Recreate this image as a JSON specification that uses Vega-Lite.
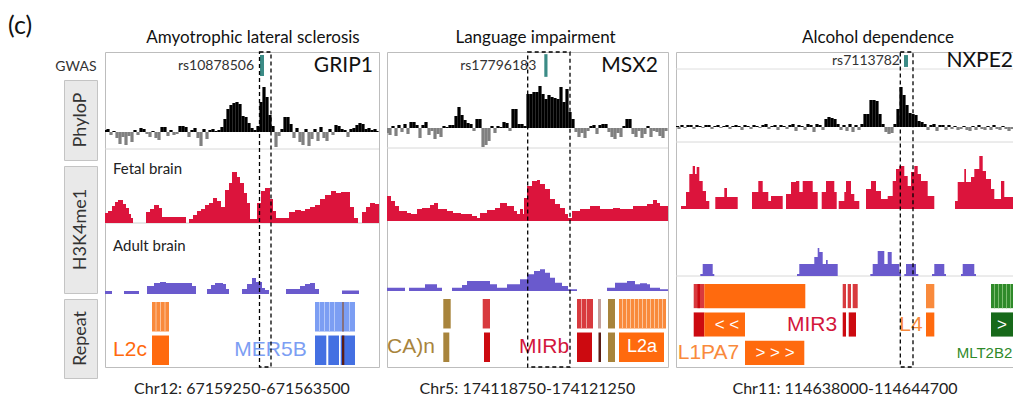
{
"$schema":"https://vega.github.io/schema/vega-lite/v6.json",
"background":"white",
"padding":{"left":8,"top":12,"right":0,"bottom":0},
"config":{"font":"Lato","view":{"stroke":"#bdbdbd"},"scale":{"continuousPadding":0},"title":{"fontWeight":"normal","color":"#111111","subtitleColor":"#111111","subtitleFont":"Lato"}},
"datasets":{
"p1phylo":[{"x":1.6,"v":0.2},{"x":3,"v":0.3},{"x":6,"v":-0.3},{"x":9,"v":0.1},{"x":12,"v":-0.6},{"x":15,"v":-1.2},{"x":18,"v":-0.5},{"x":21,"v":-1.3},{"x":24,"v":-0.4},{"x":27,"v":-1.0},{"x":30,"v":0.2},{"x":33,"v":-0.3},{"x":36,"v":0.4},{"x":39,"v":0.3},{"x":42,"v":-0.2},{"x":45,"v":-0.5},{"x":48,"v":0.1},{"x":51,"v":-0.6},{"x":54,"v":-0.8},{"x":57,"v":0.5},{"x":60,"v":0.5},{"x":63,"v":-0.4},{"x":66,"v":0.2},{"x":69,"v":-0.3},{"x":72,"v":-0.2},{"x":75,"v":0.6},{"x":78,"v":0.6},{"x":81,"v":0.5},{"x":84,"v":-0.5},{"x":87,"v":0.2},{"x":90,"v":0.4},{"x":93,"v":-0.6},{"x":96,"v":-1.4},{"x":99,"v":0.3},{"x":102,"v":-0.7},{"x":105,"v":0.2},{"x":108,"v":0.3},{"x":111,"v":0.1},{"x":114,"v":0.2},{"x":117,"v":0.5},{"x":120,"v":1.3},{"x":123,"v":2.3},{"x":126,"v":2.7},{"x":129,"v":2.9},{"x":132,"v":3.0},{"x":135,"v":2.8},{"x":138,"v":1.6},{"x":141,"v":1.5},{"x":144,"v":0.9},{"x":147,"v":0.4},{"x":150,"v":0.2},{"x":153,"v":0.6},{"x":156,"v":3.0},{"x":159,"v":4.5},{"x":162,"v":3.5},{"x":165,"v":1.7},{"x":168,"v":0.6},{"x":171,"v":-1.5},{"x":174,"v":-0.4},{"x":177,"v":0.3},{"x":180,"v":1.5},{"x":183,"v":1.5},{"x":186,"v":0.8},{"x":189,"v":-0.6},{"x":192,"v":0.4},{"x":195,"v":-1.0},{"x":198,"v":-1.3},{"x":201,"v":0.3},{"x":204,"v":-1.4},{"x":207,"v":-0.7},{"x":210,"v":0.3},{"x":213,"v":-0.9},{"x":216,"v":0.5},{"x":219,"v":-0.6},{"x":222,"v":-0.9},{"x":225,"v":0.3},{"x":228,"v":-0.3},{"x":231,"v":0.7},{"x":234,"v":0.6},{"x":237,"v":0.3},{"x":240,"v":0.2},{"x":243,"v":-0.5},{"x":246,"v":0.3},{"x":249,"v":0.4},{"x":252,"v":0.7},{"x":255,"v":0.9},{"x":258,"v":0.8},{"x":261,"v":0.3},{"x":264,"v":0.4},{"x":267,"v":0.2},{"x":270,"v":0.3},{"x":272,"v":0.1}],
"p1fetal":[{"x":0,"v":1.0},{"x":3,"v":1.2},{"x":7,"v":1.7},{"x":10,"v":2.1},{"x":13,"v":2.3},{"x":18,"v":1.9},{"x":21,"v":1.5},{"x":24,"v":0.9},{"x":26,"v":0.5},{"x":28,"v":0},{"x":41,"v":1.1},{"x":45,"v":1.4},{"x":49,"v":1.8},{"x":54,"v":1.5},{"x":57,"v":0.6},{"x":81,"v":0},{"x":84,"v":0.4},{"x":88,"v":0.8},{"x":92,"v":1.2},{"x":96,"v":1.4},{"x":100,"v":1.8},{"x":104,"v":2.0},{"x":108,"v":2.5},{"x":112,"v":2.2},{"x":116,"v":1.6},{"x":120,"v":3.3},{"x":124,"v":4.0},{"x":127,"v":5.1},{"x":132,"v":4.6},{"x":135,"v":4.0},{"x":139,"v":3.0},{"x":142,"v":2.0},{"x":145,"v":0.4},{"x":152,"v":2.0},{"x":156,"v":3.2},{"x":160,"v":3.5},{"x":165,"v":2.4},{"x":168,"v":1.2},{"x":171,"v":0.5},{"x":184,"v":1.1},{"x":190,"v":1.3},{"x":196,"v":1.2},{"x":200,"v":1.4},{"x":205,"v":1.6},{"x":210,"v":1.8},{"x":215,"v":2.4},{"x":220,"v":2.8},{"x":226,"v":3.2},{"x":231,"v":3.0},{"x":236,"v":3.1},{"x":241,"v":3.1},{"x":245,"v":1.6},{"x":249,"v":0.5},{"x":253,"v":0},{"x":257,"v":1.1},{"x":261,"v":1.6},{"x":265,"v":2.0},{"x":270,"v":1.9},{"x":274,"v":1.9}],
"p1adult":[{"x":0,"v":0.3},{"x":7,"v":0},{"x":19,"v":0.3},{"x":34,"v":0},{"x":42,"v":0.8},{"x":49,"v":1.1},{"x":55,"v":1.2},{"x":61,"v":1.1},{"x":87,"v":0.8},{"x":91,"v":0},{"x":102,"v":0.5},{"x":106,"v":0.9},{"x":110,"v":1.1},{"x":118,"v":1.0},{"x":121,"v":0.5},{"x":124,"v":0},{"x":137,"v":0.5},{"x":142,"v":1.0},{"x":147,"v":1.6},{"x":151,"v":1.2},{"x":157,"v":0.6},{"x":160,"v":0.4},{"x":164,"v":0},{"x":181,"v":0.5},{"x":195,"v":0.8},{"x":200,"v":1.0},{"x":205,"v":1.1},{"x":210,"v":0.5},{"x":214,"v":0},{"x":237,"v":0.35},{"x":254,"v":0},{"x":274,"v":0}],
"p1rep":[{"s":47,"e":64,"lane":1,"c":"L2x"},{"s":50.5,"e":51.5,"lane":1,"c":"hiL"},{"s":55,"e":56,"lane":1,"c":"hiL"},{"s":59.5,"e":60.5,"lane":1,"c":"hiL"},{"s":47,"e":64,"lane":2,"c":"L2"},{"s":210,"e":250,"lane":1,"c":"MERx"},{"s":214,"e":215,"lane":1,"c":"hiB"},{"s":219,"e":220,"lane":1,"c":"hiB"},{"s":224,"e":225,"lane":1,"c":"hiB"},{"s":229,"e":230,"lane":1,"c":"hiB"},{"s":237,"e":239,"lane":1,"c":"mv"},{"s":244,"e":245,"lane":1,"c":"hiB"},{"s":210,"e":221.3,"lane":2,"c":"MER"},{"s":223.3,"e":234,"lane":2,"c":"MER"},{"s":235.7,"e":250,"lane":2,"c":"MER"},{"s":237,"e":239.3,"lane":2,"c":"dk"}],
"p2phylo":[{"x":1.6,"v":-0.5},{"x":3,"v":-0.7},{"x":6,"v":0.2},{"x":9,"v":-0.8},{"x":12,"v":0.3},{"x":15,"v":-0.4},{"x":18,"v":0.4},{"x":21,"v":-0.6},{"x":24,"v":0.6},{"x":27,"v":0.6},{"x":30,"v":0.3},{"x":33,"v":-1.0},{"x":36,"v":0.3},{"x":39,"v":0.6},{"x":42,"v":-0.7},{"x":45,"v":-0.3},{"x":48,"v":-1.1},{"x":51,"v":-0.6},{"x":54,"v":-0.9},{"x":57,"v":0.2},{"x":60,"v":0.1},{"x":63,"v":0.3},{"x":66,"v":0.3},{"x":69,"v":1.2},{"x":72,"v":2.1},{"x":75,"v":1.3},{"x":78,"v":0.8},{"x":81,"v":0.5},{"x":84,"v":0.4},{"x":87,"v":-0.3},{"x":90,"v":0.9},{"x":93,"v":0.9},{"x":96,"v":-1.9},{"x":99,"v":-1.7},{"x":102,"v":-1.3},{"x":105,"v":0.2},{"x":108,"v":-0.5},{"x":111,"v":0.2},{"x":114,"v":0.1},{"x":117,"v":0.6},{"x":120,"v":0.5},{"x":123,"v":-0.3},{"x":126,"v":1.9},{"x":129,"v":1.9},{"x":132,"v":0.4},{"x":135,"v":0.4},{"x":138,"v":0.2},{"x":141,"v":3.4},{"x":144,"v":3.4},{"x":147,"v":3.6},{"x":150,"v":3.6},{"x":153,"v":4.2},{"x":156,"v":3.4},{"x":159,"v":2.9},{"x":162,"v":3.3},{"x":165,"v":3.1},{"x":168,"v":3.0},{"x":171,"v":2.9},{"x":174,"v":4.1},{"x":177,"v":2.6},{"x":180,"v":3.9},{"x":183,"v":1.6},{"x":186,"v":0.9},{"x":189,"v":-0.4},{"x":192,"v":-0.9},{"x":195,"v":-0.5},{"x":198,"v":-1.0},{"x":201,"v":-0.3},{"x":204,"v":0.2},{"x":207,"v":0.3},{"x":210,"v":-0.6},{"x":213,"v":0.3},{"x":216,"v":0.4},{"x":219,"v":0.4},{"x":222,"v":-0.4},{"x":225,"v":-0.9},{"x":228,"v":-1.1},{"x":231,"v":-0.5},{"x":234,"v":-0.9},{"x":237,"v":0.2},{"x":240,"v":0.9},{"x":243,"v":0.9},{"x":246,"v":-0.6},{"x":249,"v":-0.9},{"x":252,"v":-0.3},{"x":255,"v":-1.0},{"x":258,"v":-0.6},{"x":261,"v":0.2},{"x":264,"v":-0.9},{"x":267,"v":-0.3},{"x":270,"v":-0.4},{"x":273,"v":-0.8},{"x":276,"v":-1.0},{"x":279,"v":-0.3}],
"p2fetal":[{"x":0,"v":2.5},{"x":4,"v":2.0},{"x":8,"v":1.5},{"x":12,"v":1.0},{"x":20,"v":0.8},{"x":24,"v":0.7},{"x":30,"v":1.2},{"x":35,"v":1.3},{"x":43,"v":1.6},{"x":47,"v":1.8},{"x":51,"v":1.2},{"x":60,"v":1.0},{"x":66,"v":0.8},{"x":74,"v":0.7},{"x":85,"v":0.5},{"x":90,"v":0.3},{"x":93,"v":0.8},{"x":100,"v":1.1},{"x":108,"v":1.3},{"x":113,"v":1.8},{"x":120,"v":1.5},{"x":127,"v":1.0},{"x":130,"v":0.7},{"x":133,"v":1.2},{"x":136,"v":0.7},{"x":137,"v":2.3},{"x":140,"v":3.5},{"x":145,"v":4.0},{"x":150,"v":4.1},{"x":153,"v":3.7},{"x":158,"v":3.2},{"x":163,"v":2.2},{"x":168,"v":1.7},{"x":173,"v":1.3},{"x":178,"v":0.7},{"x":181,"v":0.3},{"x":185,"v":1.0},{"x":193,"v":1.2},{"x":203,"v":1.5},{"x":213,"v":1.2},{"x":226,"v":1.3},{"x":233,"v":1.2},{"x":246,"v":1.5},{"x":260,"v":1.7},{"x":266,"v":2.1},{"x":270,"v":1.8},{"x":273,"v":1.5},{"x":281,"v":1.5}],
"p2adult":[{"x":0,"v":0.33},{"x":18,"v":0},{"x":22,"v":0.33},{"x":38,"v":0.67},{"x":50,"v":0.33},{"x":55,"v":0},{"x":65,"v":0.33},{"x":75,"v":0.6},{"x":80,"v":1.0},{"x":103,"v":0.67},{"x":110,"v":0.33},{"x":120,"v":0.67},{"x":133,"v":1.17},{"x":140,"v":1.67},{"x":147,"v":2.0},{"x":153,"v":2.17},{"x":158,"v":1.83},{"x":163,"v":1.33},{"x":168,"v":0.83},{"x":175,"v":0.5},{"x":181,"v":0.17},{"x":190,"v":0},{"x":220,"v":0.33},{"x":228,"v":0.83},{"x":240,"v":1.0},{"x":248,"v":0.67},{"x":253,"v":0.77},{"x":260,"v":0.67},{"x":263,"v":0.33},{"x":273,"v":0.17},{"x":281,"v":0.17}],
"p2rep":[{"s":56.3,"e":63.7,"lane":1,"c":"Sim"},{"s":56.3,"e":62.3,"lane":2,"c":"Sim"},{"s":95.7,"e":103,"lane":1,"c":"MIRx"},{"s":97,"e":103,"lane":2,"c":"MIR"},{"s":190,"e":206,"lane":1,"c":"MIRx"},{"s":194,"e":195,"lane":1,"c":"hiR"},{"s":199,"e":200,"lane":1,"c":"hiR"},{"s":190,"e":205,"lane":2,"c":"MIR"},{"s":211,"e":214,"lane":1,"c":"pk"},{"s":211.5,"e":214,"lane":2,"c":"dk"},{"s":221,"e":228,"lane":1,"c":"Sim"},{"s":221,"e":228,"lane":2,"c":"Sim"},{"s":232,"e":279,"lane":1,"c":"L2x"},{"s":235,"e":236,"lane":1,"c":"hiL"},{"s":239,"e":240,"lane":1,"c":"hiL"},{"s":243,"e":244,"lane":1,"c":"hiL"},{"s":247,"e":248,"lane":1,"c":"hiL"},{"s":251,"e":252,"lane":1,"c":"hiL"},{"s":255,"e":256,"lane":1,"c":"hiL"},{"s":259,"e":260,"lane":1,"c":"hiL"},{"s":263,"e":264,"lane":1,"c":"hiL"},{"s":267,"e":268,"lane":1,"c":"hiL"},{"s":271,"e":272,"lane":1,"c":"hiL"},{"s":275,"e":276,"lane":1,"c":"hiL"},{"s":232,"e":277,"lane":2,"c":"L2"}],
"p3phylo":[{"x":1.6,"v":0.1},{"x":3,"v":-0.2},{"x":6,"v":0.2},{"x":9,"v":-0.1},{"x":12,"v":0.2},{"x":15,"v":0.2},{"x":18,"v":-0.2},{"x":21,"v":0.2},{"x":24,"v":0.1},{"x":27,"v":-0.1},{"x":30,"v":0.2},{"x":33,"v":0.2},{"x":36,"v":-0.2},{"x":39,"v":0.1},{"x":42,"v":0.2},{"x":45,"v":-0.1},{"x":48,"v":0.1},{"x":51,"v":0.2},{"x":54,"v":-0.2},{"x":57,"v":0.1},{"x":60,"v":0.2},{"x":63,"v":0.1},{"x":66,"v":-0.3},{"x":69,"v":0.2},{"x":72,"v":0.1},{"x":75,"v":-0.2},{"x":78,"v":0.2},{"x":81,"v":0.1},{"x":84,"v":-0.1},{"x":87,"v":0.2},{"x":90,"v":0.3},{"x":93,"v":-0.2},{"x":96,"v":0.1},{"x":99,"v":0.2},{"x":102,"v":-0.3},{"x":105,"v":0.2},{"x":108,"v":0.1},{"x":111,"v":-0.2},{"x":114,"v":0.2},{"x":117,"v":0.3},{"x":120,"v":-0.4},{"x":123,"v":0.2},{"x":126,"v":0.1},{"x":129,"v":-0.3},{"x":132,"v":0.3},{"x":135,"v":0.2},{"x":138,"v":-0.5},{"x":141,"v":0.3},{"x":144,"v":0.2},{"x":147,"v":-0.3},{"x":150,"v":0.8},{"x":153,"v":1.0},{"x":156,"v":0.9},{"x":159,"v":0.8},{"x":162,"v":0.3},{"x":165,"v":-0.3},{"x":168,"v":0.2},{"x":171,"v":-0.4},{"x":174,"v":0.3},{"x":177,"v":-0.5},{"x":180,"v":0.2},{"x":183,"v":-0.3},{"x":186,"v":0.3},{"x":189,"v":1.3},{"x":192,"v":1.3},{"x":195,"v":2.7},{"x":198,"v":2.7},{"x":201,"v":2.6},{"x":204,"v":1.3},{"x":207,"v":0.3},{"x":210,"v":-0.5},{"x":213,"v":-0.7},{"x":216,"v":-0.6},{"x":219,"v":0.3},{"x":222,"v":1.8},{"x":225,"v":4.0},{"x":228,"v":3.2},{"x":231,"v":2.2},{"x":234,"v":1.4},{"x":237,"v":1.3},{"x":240,"v":1.2},{"x":243,"v":0.6},{"x":246,"v":0.5},{"x":249,"v":0.3},{"x":252,"v":-0.3},{"x":255,"v":0.2},{"x":258,"v":0.3},{"x":261,"v":-0.4},{"x":264,"v":0.2},{"x":267,"v":0.2},{"x":270,"v":-0.3},{"x":273,"v":0.2},{"x":276,"v":-0.2},{"x":279,"v":0.1},{"x":282,"v":-0.3},{"x":285,"v":-0.2},{"x":288,"v":0.1},{"x":291,"v":-0.3},{"x":294,"v":-0.4},{"x":297,"v":0.1},{"x":300,"v":-0.3},{"x":303,"v":0.2},{"x":306,"v":-0.2},{"x":309,"v":-0.3},{"x":312,"v":0.1},{"x":315,"v":-0.3},{"x":318,"v":0.2},{"x":321,"v":-0.2},{"x":324,"v":-0.3},{"x":327,"v":0.1},{"x":330,"v":-0.2},{"x":333,"v":-0.4},{"x":336,"v":-0.2}],
"p3fetal":[{"x":0,"v":0},{"x":5,"v":0.3},{"x":10,"v":1.7},{"x":13.3,"v":3.5},{"x":16.7,"v":4.3},{"x":19,"v":3.5},{"x":20.7,"v":4.2},{"x":23.3,"v":2.8},{"x":26.7,"v":1.8},{"x":30,"v":0.8},{"x":33.3,"v":0},{"x":39.3,"v":1.2},{"x":48.3,"v":2.1},{"x":51,"v":1.2},{"x":61.7,"v":0},{"x":76,"v":1.7},{"x":82.3,"v":2.8},{"x":86.7,"v":1.7},{"x":92.3,"v":0.8},{"x":95,"v":1.3},{"x":106.7,"v":0},{"x":110,"v":1.5},{"x":115,"v":2.7},{"x":120,"v":2.8},{"x":123.3,"v":1.7},{"x":126.7,"v":2.8},{"x":136.7,"v":1.7},{"x":141.7,"v":0},{"x":145.7,"v":1.7},{"x":150,"v":2.8},{"x":158.3,"v":1.7},{"x":160.7,"v":0},{"x":162.7,"v":0.8},{"x":168.3,"v":1.7},{"x":170,"v":2.8},{"x":175,"v":1.5},{"x":178.3,"v":0.8},{"x":183.3,"v":0},{"x":190,"v":2.0},{"x":195,"v":2.8},{"x":200,"v":1.8},{"x":205,"v":1.0},{"x":211.7,"v":1.3},{"x":216.7,"v":2.8},{"x":220,"v":4.0},{"x":223.3,"v":4.3},{"x":228.3,"v":3.3},{"x":231.7,"v":2.3},{"x":235,"v":3.7},{"x":238.3,"v":4.3},{"x":241.7,"v":3.5},{"x":245,"v":2.8},{"x":251.7,"v":1.3},{"x":258.3,"v":0},{"x":279,"v":0.8},{"x":281.7,"v":2.7},{"x":288.3,"v":4.0},{"x":290,"v":2.7},{"x":295,"v":3.2},{"x":298.3,"v":4.0},{"x":303.3,"v":5.3},{"x":306.7,"v":3.8},{"x":310,"v":3.0},{"x":315,"v":2.0},{"x":318.3,"v":1.0},{"x":325,"v":2.8},{"x":328.3,"v":1.2},{"x":338,"v":1.2}],
"p3adult":[{"x":0,"v":0},{"x":24.3,"v":0.2},{"x":26.7,"v":1.2},{"x":36.7,"v":0.2},{"x":38.3,"v":0},{"x":121,"v":0.2},{"x":123.3,"v":1.2},{"x":138.3,"v":1.9},{"x":141.7,"v":2.8},{"x":143.3,"v":2.4},{"x":146.7,"v":1.2},{"x":150,"v":1.6},{"x":151.7,"v":1.2},{"x":161.7,"v":0},{"x":194.3,"v":0.2},{"x":196.7,"v":1.2},{"x":201.7,"v":2.5},{"x":208.3,"v":1.2},{"x":211.7,"v":2.4},{"x":215.7,"v":1.2},{"x":223.3,"v":0.4},{"x":225,"v":0},{"x":228.3,"v":0.2},{"x":230,"v":1.2},{"x":240,"v":0.2},{"x":242.3,"v":0},{"x":256,"v":0.2},{"x":258.3,"v":1.2},{"x":268.3,"v":0.2},{"x":270,"v":0},{"x":285,"v":0.2},{"x":286.7,"v":1.2},{"x":298.3,"v":0.2},{"x":300,"v":0},{"x":338,"v":0}],
"p3rep":[{"s":17.7,"e":28.3,"lane":1,"c":"MIRx"},{"s":21.5,"e":24,"lane":1,"c":"MIR"},{"s":28.3,"e":129.3,"lane":1,"c":"L2"},{"s":166.7,"e":170,"lane":1,"c":"MIRx"},{"s":171.7,"e":175,"lane":1,"c":"MIRx"},{"s":176.7,"e":181.7,"lane":1,"c":"MIRx"},{"s":250,"e":258.3,"lane":1,"c":"L2x"},{"s":315,"e":338,"lane":1,"c":"LTRx"},{"s":318,"e":319,"lane":1,"c":"hiG"},{"s":322,"e":323,"lane":1,"c":"hiG"},{"s":326,"e":327,"lane":1,"c":"hiG"},{"s":330,"e":331,"lane":1,"c":"hiG"},{"s":334,"e":335,"lane":1,"c":"hiG"},{"s":17.7,"e":28.3,"lane":2,"c":"MIR"},{"s":28.3,"e":69,"lane":2,"c":"L2"},{"s":166.7,"e":170,"lane":2,"c":"MIR"},{"s":172.7,"e":180,"lane":2,"c":"MIR"},{"s":250,"e":258.3,"lane":2,"c":"L2"},{"s":315,"e":338,"lane":2,"c":"LTR"},{"s":69,"e":128.3,"lane":3,"c":"L2"}]
},
"spacing":6,
"hconcat":[
{
"title":{"text":"(c)","subtitle":" ","anchor":"start","frame":"group","dx":-56,"offset":5,"fontSize":25,"subtitleFontSize":17,"subtitlePadding":-8},
"spacing":4,
"vconcat":[
{"width":33,"height":23,"view":{"stroke":null},"data":{"values":[{"t":"GWAS"}]},"mark":{"type":"text","fontSize":14,"align":"right","dx":16,"dy":3,"color":"#333333"},"encoding":{"text":{"field":"t"}}},
{"width":33,"height":80,"view":{"stroke":"#c4c4c4","fill":"#e9e9e9"},"data":{"values":[{"t":"PhyloP"}]},"mark":{"type":"text","angle":270,"fontSize":18,"color":"#333333"},"encoding":{"text":{"field":"t"}}},
{"width":33,"height":127,"view":{"stroke":"#c4c4c4","fill":"#e9e9e9"},"data":{"values":[{"t":"H3K4me1"}]},"mark":{"type":"text","angle":270,"fontSize":18,"color":"#333333"},"encoding":{"text":{"field":"t"}}},
{"width":33,"height":79,"view":{"stroke":"#c4c4c4","fill":"#e9e9e9"},"data":{"values":[{"t":"Repeat"}]},"mark":{"type":"text","angle":270,"fontSize":18,"color":"#333333"},"encoding":{"text":{"field":"t"}}}
]
},
{
"spacing":4,
"vconcat":[
{"width":274,"height":315,"resolve":{"scale":{"y":"independent"}},
"title":{"text":" ","subtitle":"Amyotrophic lateral sclerosis","anchor":"middle","frame":"group","dx":11,"offset":5,"fontSize":25,"subtitleFontSize":17,"subtitlePadding":-8},
"layer":[
{"data":{"values":[{"snp":"rs10878506","s":155,"e":159,"gene":"GRIP1","g":268}]},
"layer":[
{"mark":{"type":"rect","color":"#3b8b86"},"encoding":{"x":{"field":"s","type":"quantitative","scale":{"domain":[0,274],"nice":false,"zero":false,"padding":0},"axis":null},"x2":{"field":"e"},"y":{"datum":0.11,"type":"quantitative","scale":{"domain":[0,1],"range":[27,0],"nice":false,"zero":false},"axis":null},"y2":{"datum":0.89}}},
{"mark":{"type":"text","align":"right","dx":-6,"fontSize":14,"color":"#333333"},"encoding":{"x":{"field":"s","type":"quantitative","axis":null},"y":{"datum":0.5,"type":"quantitative","axis":null},"text":{"field":"snp"}}},
{"mark":{"type":"text","align":"right","fontSize":21,"color":"#111111"},"encoding":{"x":{"field":"g","type":"quantitative","axis":null},"y":{"datum":0.5,"type":"quantitative","axis":null},"text":{"field":"gene"}}}
]},
{"layer":[
{"data":{"values":[{}]},"mark":{"type":"rule","color":"#d8d8d8"},"encoding":{"y":{"datum":-1.7,"type":"quantitative","scale":{"domain":[-1.7,5.3],"range":[97,27],"nice":false,"zero":false},"axis":null}}},
{"data":{"name":"p1phylo"},"mark":{"type":"bar","width":3.2,"clip":true},"encoding":{"x":{"field":"x","type":"quantitative","scale":{"domain":[0,274],"nice":false,"zero":false,"padding":0},"axis":null},"y":{"field":"v","type":"quantitative","axis":null},"y2":{"datum":0},"color":{"condition":{"test":"datum.v < 0","value":"#808080"},"value":"#000000"}}}
]},
{"layer":[
{"data":{"values":[{}]},"mark":{"type":"rule","color":"#d0d0d0"},"encoding":{"y":{"datum":0,"type":"quantitative","scale":{"domain":[0,7.4],"range":[171,97],"nice":false,"zero":false},"axis":null}}},
{"data":{"name":"p1fetal"},"mark":{"type":"area","interpolate":"step-after","color":"#dc143c"},"encoding":{"x":{"field":"x","type":"quantitative","scale":{"domain":[0,274],"nice":false,"zero":false,"padding":0},"axis":null},"y":{"field":"v","type":"quantitative","axis":null},"y2":{"datum":0}}},
{"data":{"values":[{"t":"Fetal brain"}]},"mark":{"type":"text","align":"left","fontSize":15,"color":"#222222"},"encoding":{"x":{"datum":8,"type":"quantitative","axis":null},"y":{"datum":5.4,"type":"quantitative","axis":null},"text":{"field":"t"}}}
]},
{"layer":[
{"data":{"name":"p1adult"},"mark":{"type":"area","interpolate":"step-after","color":"#6a5acd"},"encoding":{"x":{"field":"x","type":"quantitative","scale":{"domain":[0,274],"nice":false,"zero":false,"padding":0},"axis":null},"y":{"field":"v","type":"quantitative","scale":{"domain":[-0.1,7.1],"range":[243,171],"nice":false,"zero":false},"axis":null},"y2":{"datum":0}}},
{"data":{"values":[{"t":"Adult brain"}]},"mark":{"type":"text","align":"left","fontSize":15,"color":"#222222"},"encoding":{"x":{"datum":8,"type":"quantitative","axis":null},"y":{"datum":4.8,"type":"quantitative","axis":null},"text":{"field":"t"}}}
]},
{"layer":[
{"data":{"name":"p1rep"},"mark":{"type":"rect"},"encoding":{"x":{"field":"s","type":"quantitative","scale":{"domain":[0,274],"nice":false,"zero":false,"padding":0},"axis":null},"x2":{"field":"e"},"y":{"field":"lane","type":"ordinal","scale":{"type":"band","domain":[1,2],"range":[250,313],"paddingInner":0.12,"paddingOuter":0},"axis":null},"color":{"field":"c","type":"nominal","legend":null,"scale":{"domain":["L2","L2x","hiL","MER","MERx","hiB","mv","Sim","MIR","MIRx","hiR","MIRt","dk","pk","LTR","LTRx","hiG"],"range":["#ff6a0e","#f98a3c","#fcc49c","#4470e2","#7c9ef3","#b4c8fa","#86707e","#a8843c","#cc0a10","#d83a3e","#eea0a0","#d3163c","#5a1c14","#c4a09c","#17691a","#2f8a2a","#7cbc70"]}}}},
{"data":{"values":[{"t":"L2c","x":25,"lane":2,"c":"L2"},{"t":"MER5B","x":165.5,"lane":2,"c":"MERx"}]},"mark":{"type":"text","font":"Liberation Sans","fontSize":21,"clip":true},"encoding":{"x":{"field":"x","type":"quantitative","axis":null},"y":{"field":"lane","type":"ordinal","axis":null},"text":{"field":"t"},"color":{"field":"c","type":"nominal","legend":null}}}
]},
{"data":{"values":[{"s":154.5,"e":166}]},"mark":{"type":"rect","fill":"#ffffff","fillOpacity":0,"stroke":"#000000","strokeDash":[4,3],"strokeWidth":1.3},"encoding":{"x":{"field":"s","type":"quantitative","axis":null},"x2":{"field":"e"}}}
]},
{"width":274,"height":32,"data":{"values":[{"t":"Chr12: 67159250-671563500"}]},"mark":{"type":"text","fontSize":16,"color":"#222222"},"encoding":{"text":{"field":"t"}}}
]
},
{
"spacing":4,
"vconcat":[
{"width":281,"height":315,"resolve":{"scale":{"y":"independent"}},
"title":{"text":" ","subtitle":"Language impairment","anchor":"middle","frame":"group","dx":8,"offset":5,"fontSize":25,"subtitleFontSize":17,"subtitlePadding":-8},
"layer":[
{"data":{"values":[{"snp":"rs17796183","s":157.3,"e":160.5,"gene":"MSX2","g":271}]},
"layer":[
{"mark":{"type":"rect","color":"#3b8b86"},"encoding":{"x":{"field":"s","type":"quantitative","scale":{"domain":[0,281],"nice":false,"zero":false,"padding":0},"axis":null},"x2":{"field":"e"},"y":{"datum":0.08,"type":"quantitative","scale":{"domain":[0,1],"range":[27,0],"nice":false,"zero":false},"axis":null},"y2":{"datum":0.92}}},
{"mark":{"type":"text","align":"right","dx":-8,"fontSize":14,"color":"#333333"},"encoding":{"x":{"field":"s","type":"quantitative","axis":null},"y":{"datum":0.5,"type":"quantitative","axis":null},"text":{"field":"snp"}}},
{"mark":{"type":"text","align":"right","fontSize":21,"color":"#111111"},"encoding":{"x":{"field":"g","type":"quantitative","axis":null},"y":{"datum":0.5,"type":"quantitative","axis":null},"text":{"field":"gene"}}}
]},
{"layer":[
{"data":{"values":[{}]},"mark":{"type":"rule","color":"#d8d8d8"},"encoding":{"y":{"datum":-2.0,"type":"quantitative","scale":{"domain":[-2.0,4.9],"range":[96,27],"nice":false,"zero":false},"axis":null}}},
{"data":{"name":"p2phylo"},"mark":{"type":"bar","width":3.2,"clip":true},"encoding":{"x":{"field":"x","type":"quantitative","scale":{"domain":[0,281],"nice":false,"zero":false,"padding":0},"axis":null},"y":{"field":"v","type":"quantitative","axis":null},"y2":{"datum":0},"color":{"condition":{"test":"datum.v < 0","value":"#808080"},"value":"#000000"}}}
]},
{"layer":[
{"data":{"name":"p2fetal"},"mark":{"type":"area","interpolate":"step-after","color":"#dc143c"},"encoding":{"x":{"field":"x","type":"quantitative","scale":{"domain":[0,281],"nice":false,"zero":false,"padding":0},"axis":null},"y":{"field":"v","type":"quantitative","scale":{"domain":[0,7.3],"range":[169,96],"nice":false,"zero":false},"axis":null},"y2":{"datum":0}}}
]},
{"layer":[
{"data":{"name":"p2adult"},"mark":{"type":"area","interpolate":"step-after","color":"#6a5acd"},"encoding":{"x":{"field":"x","type":"quantitative","scale":{"domain":[0,281],"nice":false,"zero":false,"padding":0},"axis":null},"y":{"field":"v","type":"quantitative","scale":{"domain":[-0.2,7.0],"range":[241,169],"nice":false,"zero":false},"axis":null},"y2":{"datum":0}}}
]},
{"layer":[
{"data":{"name":"p2rep"},"mark":{"type":"rect"},"encoding":{"x":{"field":"s","type":"quantitative","scale":{"domain":[0,281],"nice":false,"zero":false,"padding":0},"axis":null},"x2":{"field":"e"},"y":{"field":"lane","type":"ordinal","scale":{"type":"band","domain":[1,2],"range":[247,310],"paddingInner":0.12,"paddingOuter":0},"axis":null},"color":{"field":"c","type":"nominal","legend":null}}},
{"data":{"values":[{"t":"(CA)n","x":20.5,"lane":2,"c":"Sim"},{"t":"MIRb","x":157,"lane":2,"c":"MIRt"}]},"mark":{"type":"text","font":"Liberation Sans","fontSize":21,"clip":true},"encoding":{"x":{"field":"x","type":"quantitative","axis":null},"y":{"field":"lane","type":"ordinal","axis":null},"text":{"field":"t"},"color":{"field":"c","type":"nominal","legend":null}}},
{"data":{"values":[{"t":"L2a","x":255,"lane":2}]},"mark":{"type":"text","font":"Liberation Sans","fontSize":18,"color":"#ffffff"},"encoding":{"x":{"field":"x","type":"quantitative","axis":null},"y":{"field":"lane","type":"ordinal","axis":null},"text":{"field":"t"}}}
]},
{"data":{"values":[{"s":140.7,"e":183}]},"mark":{"type":"rect","fill":"#ffffff","fillOpacity":0,"stroke":"#000000","strokeDash":[4,3],"strokeWidth":1.3},"encoding":{"x":{"field":"s","type":"quantitative","axis":null},"x2":{"field":"e"}}}
]},
{"width":281,"height":32,"data":{"values":[{"t":"Chr5: 174118750-174121250"}]},"mark":{"type":"text","fontSize":16,"color":"#222222"},"encoding":{"text":{"field":"t"}}}
]
},
{
"spacing":4,
"vconcat":[
{"width":338,"height":315,"resolve":{"scale":{"y":"independent"}},
"title":{"text":" ","subtitle":"Alcohol dependence","anchor":"middle","frame":"group","dx":33,"offset":5,"fontSize":25,"subtitleFontSize":17,"subtitlePadding":-8},
"layer":[
{"data":{"values":[{"snp":"rs7113782","s":228,"e":232,"gene":"NXPE2","g":337}]},
"layer":[
{"data":{"values":[{}]},"mark":{"type":"rule","color":"#dedede"},"encoding":{"y":{"datum":0,"type":"quantitative","scale":{"domain":[0,1],"range":[17,0],"nice":false,"zero":false},"axis":null}}},
{"mark":{"type":"rect","color":"#3b8b86"},"encoding":{"x":{"field":"s","type":"quantitative","scale":{"domain":[0,338],"nice":false,"zero":false,"padding":0},"axis":null},"x2":{"field":"e"},"y":{"datum":0.12,"type":"quantitative","axis":null},"y2":{"datum":0.82}}},
{"mark":{"type":"text","align":"right","dx":-4,"fontSize":14,"color":"#333333"},"encoding":{"x":{"field":"s","type":"quantitative","axis":null},"y":{"datum":0.47,"type":"quantitative","axis":null},"text":{"field":"snp"}}},
{"mark":{"type":"text","align":"right","fontSize":21,"color":"#111111","clip":true},"encoding":{"x":{"field":"g","type":"quantitative","axis":null},"y":{"datum":0.47,"type":"quantitative","axis":null},"text":{"field":"gene"}}}
]},
{"layer":[
{"data":{"values":[{}]},"mark":{"type":"rule","color":"#d8d8d8"},"encoding":{"y":{"datum":-1.5,"type":"quantitative","scale":{"domain":[-1.5,5.8],"range":[90,17],"nice":false,"zero":false},"axis":null}}},
{"data":{"name":"p3phylo"},"mark":{"type":"bar","width":3.2,"clip":true},"encoding":{"x":{"field":"x","type":"quantitative","scale":{"domain":[0,338],"nice":false,"zero":false,"padding":0},"axis":null},"y":{"field":"v","type":"quantitative","axis":null},"y2":{"datum":0},"color":{"condition":{"test":"datum.v < 0","value":"#808080"},"value":"#000000"}}}
]},
{"layer":[
{"data":{"name":"p3fetal"},"mark":{"type":"area","interpolate":"step-after","color":"#dc143c"},"encoding":{"x":{"field":"x","type":"quantitative","scale":{"domain":[0,338],"nice":false,"zero":false,"padding":0},"axis":null},"y":{"field":"v","type":"quantitative","scale":{"domain":[-0.2,6.7],"range":[159,90],"nice":false,"zero":false},"axis":null},"y2":{"datum":0}}}
]},
{"layer":[
{"data":{"values":[{}]},"mark":{"type":"rule","color":"#d8d8d8"},"encoding":{"y":{"datum":0,"type":"quantitative","scale":{"domain":[0,6.5],"range":[224,159],"nice":false,"zero":false},"axis":null}}},
{"data":{"name":"p3adult"},"mark":{"type":"area","interpolate":"step-after","color":"#6a5acd"},"encoding":{"x":{"field":"x","type":"quantitative","scale":{"domain":[0,338],"nice":false,"zero":false,"padding":0},"axis":null},"y":{"field":"v","type":"quantitative","axis":null},"y2":{"datum":0}}}
]},
{"layer":[
{"data":{"name":"p3rep"},"mark":{"type":"rect"},"encoding":{"x":{"field":"s","type":"quantitative","scale":{"domain":[0,338],"nice":false,"zero":false,"padding":0},"axis":null},"x2":{"field":"e"},"y":{"field":"lane","type":"ordinal","scale":{"type":"band","domain":[1,2,3],"range":[232,313],"paddingInner":0.15,"paddingOuter":0},"axis":null},"color":{"field":"c","type":"nominal","legend":null}}},
{"data":{"values":[{"t":"MIR3","x":136,"lane":2,"c":"MIRt"},{"t":"L1PA7","x":32.5,"lane":3,"c":"L2x"},{"t":"L4","x":235,"lane":2,"c":"L2x"}]},"mark":{"type":"text","font":"Liberation Sans","fontSize":21,"clip":true},"encoding":{"x":{"field":"x","type":"quantitative","axis":null},"y":{"field":"lane","type":"ordinal","axis":null},"text":{"field":"t"},"color":{"field":"c","type":"nominal","legend":null}}},
{"data":{"values":[{"t":"MLT2B2","x":308.5,"lane":3,"c":"LTRx"}]},"mark":{"type":"text","font":"Liberation Sans","fontSize":15,"clip":true},"encoding":{"x":{"field":"x","type":"quantitative","axis":null},"y":{"field":"lane","type":"ordinal","axis":null},"text":{"field":"t"},"color":{"field":"c","type":"nominal","legend":null}}},
{"data":{"values":[{"t":"<  <","x":51,"lane":2},{"t":">  >  >","x":99,"lane":3},{"t":">","x":326,"lane":2}]},"mark":{"type":"text","font":"Liberation Sans","fontSize":17,"color":"#ffffff"},"encoding":{"x":{"field":"x","type":"quantitative","axis":null},"y":{"field":"lane","type":"ordinal","axis":null},"text":{"field":"t"}}}
]},
{"data":{"values":[{"s":224.3,"e":237}]},"mark":{"type":"rect","fill":"#ffffff","fillOpacity":0,"stroke":"#000000","strokeDash":[4,3],"strokeWidth":1.3},"encoding":{"x":{"field":"s","type":"quantitative","axis":null},"x2":{"field":"e"}}}
]},
{"width":338,"height":32,"data":{"values":[{"t":"Chr11: 114638000-114644700"}]},"mark":{"type":"text","fontSize":16,"color":"#222222"},"encoding":{"text":{"field":"t"}}}
]
}
]
}
